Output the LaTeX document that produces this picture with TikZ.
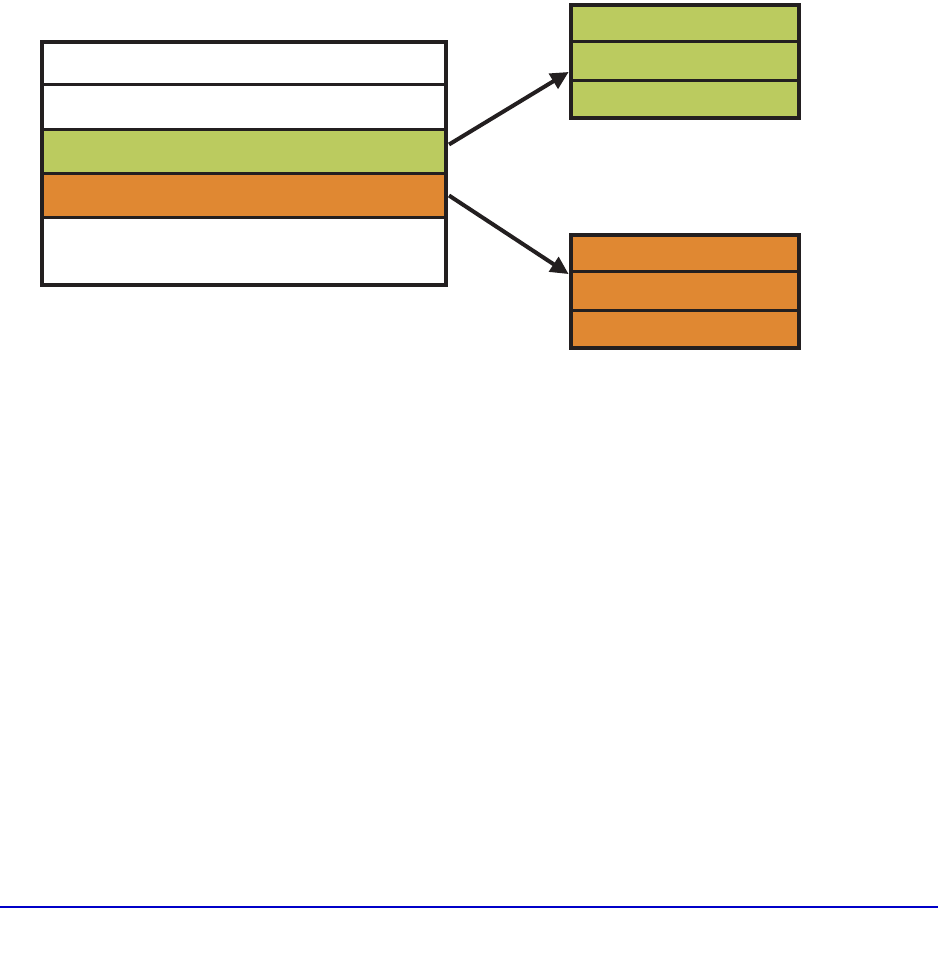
\documentclass[tikz,border=0pt]{standalone}
\usetikzlibrary{arrows.meta,calc}
\definecolor{lgreen}{HTML}{BBCB5F}
\definecolor{lorange}{HTML}{E08832}
\definecolor{dark}{HTML}{231F20}
\definecolor{rule}{RGB}{0,0,200}
\begin{document}
\begin{tikzpicture}[x=1pt,y=-1pt,
  row/.style={draw=dark,line width=3pt,minimum width=#1,inner sep=0pt,anchor=north west},
  frame/.style={draw=dark,line width=4pt},
  link/.style={draw=dark,line width=4pt,-{Triangle[length=18pt,width=17pt]},shorten >=-2pt}]
\useasboundingbox (0,0) rectangle (941,973);
% main table
\node[row=404pt,minimum height=43pt,fill=white] (m1) at (40,40) {};
\node[row=404pt,minimum height=45pt,fill=white] (m2) at (40,83) {};
\node[row=404pt,minimum height=44pt,fill=lgreen] (m3) at (40,128) {};
\node[row=404pt,minimum height=44pt,fill=lorange] (m4) at (40,172) {};
\node[row=404pt,minimum height=67pt,fill=white] (m5) at (40,216) {};
\node[frame,minimum width=404pt,minimum height=243pt,inner sep=0pt,anchor=north west] (main) at (40,40) {};
% green table
\node[row=228pt,minimum height=37pt,fill=lgreen] (g1) at (569,3) {};
\node[row=228pt,minimum height=39pt,fill=lgreen] (g2) at (569,40) {};
\node[row=228pt,minimum height=37pt,fill=lgreen] (g3) at (569,79) {};
\node[frame,minimum width=228pt,minimum height=113pt,inner sep=0pt,anchor=north west] (gbox) at (569,3) {};
% orange table
\node[row=228pt,minimum height=37pt,fill=lorange] (o1) at (569,233) {};
\node[row=228pt,minimum height=39pt,fill=lorange] (o2) at (569,270) {};
\node[row=228pt,minimum height=37pt,fill=lorange] (o3) at (569,309) {};
\node[frame,minimum width=228pt,minimum height=113pt,inner sep=0pt,anchor=north west] (obox) at (569,233) {};
% connectors
\coordinate (s1) at ($(m3.east)+(2,-7)$);
\coordinate (e1) at ($(g2.south west)+(-2,-9)$);
\coordinate (s2) at ($(m4.east)+(2,0)$);
\coordinate (e2) at ($(o1.south west)+(-2,0)$);
\draw[link] (s1) -- (e1);
\draw[link] (s2) -- (e2);
% bottom rule
\coordinate (r1) at (0,907);
\coordinate (r2) at (938,907);
\draw[rule,line width=1.2pt] (r1) -- (r2);
\end{tikzpicture}
\end{document}
